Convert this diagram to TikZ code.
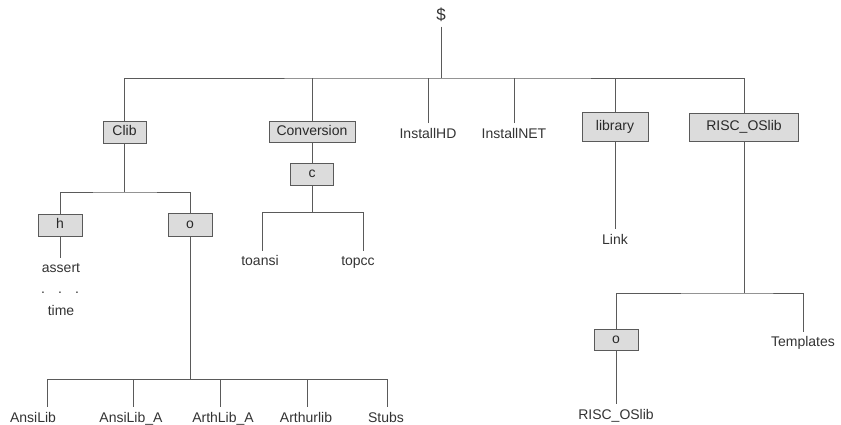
\documentclass[tikz,border=0pt]{standalone}
\usepackage{fontspec}
\setmainfont{Liberation Sans}
\definecolor{ln}{HTML}{5A5A5A}
\definecolor{txt}{HTML}{333333}
\definecolor{bx}{HTML}{DCDCDC}
\begin{document}
\begin{tikzpicture}[x=1pt,y=-1pt,
  lbl/.style={font=\fontsize{14}{16}\selectfont, text=txt, inner sep=0pt, outer sep=5pt, text height=10pt, text depth=3pt},
  dir/.style={draw=ln, fill=bx, line width=0.9pt, font=\fontsize{14}{16}\selectfont, text=txt!80!black, inner sep=0pt, outer sep=0pt, text height=10pt, text depth=3pt, minimum width=#1},
  conn/.style={draw=ln, line width=0.8pt}
]
\useasboundingbox (0,0) rectangle (841,424);
% root
\node[lbl, font=\fontsize{17}{19}\selectfont, outer sep=3pt] (root) at (441,17) {\$};
% first level
\node[dir=43pt, minimum height=22pt] (clib) at (124.5,132) {Clib};
\node[dir=86pt, minimum height=21pt] (conv) at (312,131.5) {Conversion};
\node[lbl] (ihd) at (428,134.5) {InstallHD};
\node[lbl] (inet) at (514,134.5) {InstallNET};
\node[dir=66pt, minimum height=29pt] (lib) at (615,127) {library};
\node[dir=109pt, minimum height=28pt] (risc) at (744,127) {RISC\_OSlib};
\coordinate (j0) at (441,78);
\draw[conn] (root) -- (j0);
\draw[conn] (clib.north) |- (j0) -| (risc.north);
\draw[conn] (conv.north) -- (conv.north |- j0);
\draw[conn] (ihd.north) -- (ihd.north |- j0);
\draw[conn] (inet.north) -- (inet.north |- j0);
\draw[conn] (lib.north) -- (lib.north |- j0);
% Clib subtree
\node[dir=44pt, minimum height=22pt] (h) at (60,225) {h};
\node[dir=44pt, minimum height=23pt] (o1) at (190,224.5) {o};
\coordinate (j1) at (124.5,192);
\draw[conn] (clib.south) -- (j1);
\draw[conn] (h.north) |- (j1) -| (o1.north);
\node[lbl] (assert) at (61,269) {assert};
\draw[conn] (h.south) -- (h.south |- assert.north);
\node[lbl, outer sep=0pt] (d1) at (43,290) {.};
\node[lbl, outer sep=0pt] (d2) at (60,290) {.};
\node[lbl, outer sep=0pt] (d3) at (77,290) {.};
\node[lbl] (time) at (61,312) {time};
% o bottom
\node[lbl] (ansi) at (33,418.5) {AnsiLib};
\node[lbl] (ansia) at (131,418.5) {AnsiLib\_A};
\node[lbl] (arth) at (223,418.5) {ArthLib\_A};
\node[lbl] (arthur) at (306,418.5) {Arthurlib};
\node[lbl] (stubs) at (386,418.5) {Stubs};
\coordinate (j2) at (190,379);
\coordinate (ja) at (47,379);
\coordinate (jb) at (133,379);
\coordinate (jc) at (220,379);
\coordinate (jd) at (307,379);
\coordinate (je) at (387,379);
\draw[conn] (o1.south) -- (j2);
\draw[conn] (ja) -- (je);
\draw[conn] (ja) -- (ja |- ansi.north);
\draw[conn] (jb) -- (jb |- ansia.north);
\draw[conn] (jc) -- (jc |- arth.north);
\draw[conn] (jd) -- (jd |- arthur.north);
\draw[conn] (je) -- (je |- stubs.north);
% Conversion subtree
\node[dir=43pt, minimum height=22pt] (c) at (312,174) {c};
\draw[conn] (conv.south) -- (c.north);
\node[lbl] (toansi) at (260,262) {toansi};
\node[lbl] (topcc) at (358,262) {topcc};
\coordinate (j3) at (312,212);
\coordinate (jt1) at (262,212);
\coordinate (jt2) at (363,212);
\draw[conn] (c.south) -- (j3);
\draw[conn] (jt1) -- (jt2);
\draw[conn] (jt1) -- (jt1 |- toansi.north);
\draw[conn] (jt2) -- (jt2 |- topcc.north);
% library subtree
\node[lbl] (link) at (615,240.5) {Link};
\draw[conn] (lib.south) -- (link.north);
% RISC_OSlib subtree
\node[dir=44pt, minimum height=21pt] (o2) at (616,339.5) {o};
\node[lbl] (tmpl) at (803,343) {Templates};
\coordinate (j4) at (744,293);
\draw[conn] (risc.south) -- (j4);
\draw[conn] (o2.north) |- (j4) -| (tmpl.north);
\node[lbl] (risc2) at (616,415.5) {RISC\_OSlib};
\draw[conn] (o2.south) -- (risc2.north);
\end{tikzpicture}
\end{document}
